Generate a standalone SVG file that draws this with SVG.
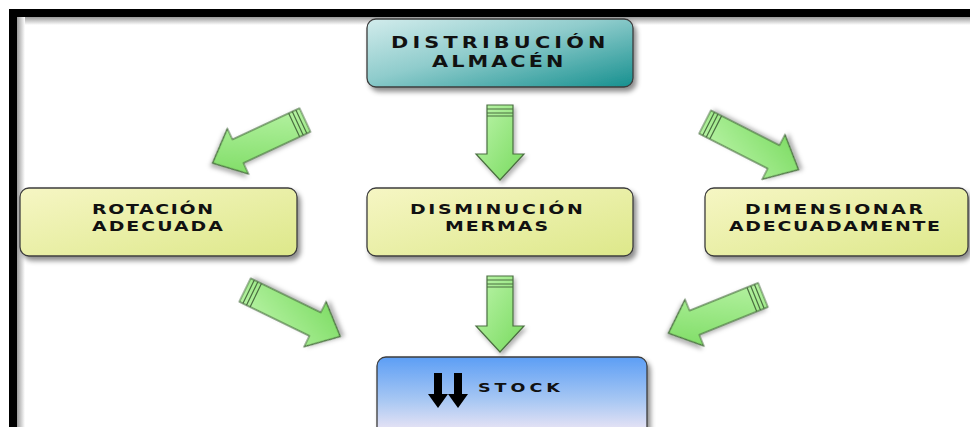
<svg xmlns="http://www.w3.org/2000/svg" width="970" height="427" viewBox="0 0 970 427">
  <defs>
    <linearGradient id="gTeal" x1="0" y1="0" x2="1" y2="1">
      <stop offset="0" stop-color="#d2ecec"/>
      <stop offset="0.45" stop-color="#8fcccc"/>
      <stop offset="1" stop-color="#16908f"/>
    </linearGradient>
    <linearGradient id="gYellow" x1="0" y1="0" x2="1" y2="1">
      <stop offset="0" stop-color="#f6f6c4"/>
      <stop offset="1" stop-color="#dde88a"/>
    </linearGradient>
    <linearGradient id="gBlue" x1="0" y1="0" x2="0" y2="1">
      <stop offset="0" stop-color="#5c9ef5"/>
      <stop offset="0.55" stop-color="#a9c8f3"/>
      <stop offset="1" stop-color="#f7eaf5"/>
    </linearGradient>
    <linearGradient id="gArrow" x1="0" y1="0" x2="1" y2="1">
      <stop offset="0" stop-color="#bdf5ab"/>
      <stop offset="1" stop-color="#78da5e"/>
    </linearGradient>
    <linearGradient id="gShadowTop" x1="0" y1="0" x2="0" y2="1">
      <stop offset="0" stop-color="#9a9a9a"/>
      <stop offset="1" stop-color="#ffffff"/>
    </linearGradient>
    <linearGradient id="gShadowLeft" x1="0" y1="0" x2="1" y2="0">
      <stop offset="0" stop-color="#9a9a9a"/>
      <stop offset="1" stop-color="#ffffff"/>
    </linearGradient>
    <filter id="shadow" x="-20%" y="-20%" width="140%" height="150%">
      <feDropShadow dx="3" dy="4" stdDeviation="2.5" flood-color="#000" flood-opacity="0.45"/>
    </filter>
    <filter id="ashadow" x="-30%" y="-30%" width="160%" height="160%">
      <feDropShadow dx="2" dy="3" stdDeviation="2" flood-color="#000" flood-opacity="0.3"/>
    </filter>
  </defs>
  <style>
    .box { stroke: #3c3c3c; stroke-width: 1.3; filter: url(#shadow); }
    .lbl { font-family: "DejaVu Sans", "Liberation Sans", sans-serif; font-weight: bold; font-size: 14px; fill: #111; }
    .big { font-size: 16px; }
    .sm { font-size: 13px; }
    .arr { fill: url(#gArrow); stroke: #4a6e40; stroke-width: 1.2; stroke-linejoin: miter; filter: url(#ashadow); }
    .stripe { stroke: #4a6e40; stroke-width: 1.2; }
  </style>

  <!-- frame -->
  <rect x="0" y="0" width="970" height="427" fill="#ffffff"/>
  <rect x="17" y="17" width="953" height="8" fill="url(#gShadowTop)"/>
  <rect x="17" y="17" width="8" height="410" fill="url(#gShadowLeft)"/>
  <rect x="9" y="9" width="961" height="8" fill="#000"/>
  <rect x="9" y="9" width="8" height="418" fill="#000"/>

  <!-- connectors -->
  <g id="connectors">
    <g transform="translate(500,105)">
      <path class="arr" d="M-13,0 L13,0 L13,49 L24,49 L0,75 L-24,49 L-13,49 Z"/>
      <path class="stripe" d="M-13,4 H13 M-13,8 H13 M-13,11 H13"/>
    </g>
    <g transform="translate(305,120) rotate(65)">
      <path class="arr" d="M-13,0 L13,0 L13,74 L25,74 L0,102 L-25,74 L-13,74 Z"/>
      <path class="stripe" d="M-13,4 H13 M-13,8 H13 M-13,12 H13"/>
    </g>
    <g transform="translate(705,122) rotate(-63)">
      <path class="arr" d="M-13,0 L13,0 L13,77 L25,77 L0,105 L-25,77 L-13,77 Z"/>
      <path class="stripe" d="M-13,4 H13 M-13,8 H13 M-13,12 H13"/>
    </g>
    <g transform="translate(500,276)">
      <path class="arr" d="M-13,0 L13,0 L13,50 L24,50 L0,76 L-24,50 L-13,50 Z"/>
      <path class="stripe" d="M-13,4 H13 M-13,8 H13 M-13,11 H13"/>
    </g>
    <g transform="translate(245,290) rotate(-64)">
      <path class="arr" d="M-13,0 L13,0 L13,78 L25,78 L0,106 L-25,78 L-13,78 Z"/>
      <path class="stripe" d="M-13,4 H13 M-13,8 H13 M-13,12 H13"/>
    </g>
    <g transform="translate(763,295) rotate(68)">
      <path class="arr" d="M-13,0 L13,0 L13,74 L25,74 L0,102 L-25,74 L-13,74 Z"/>
      <path class="stripe" d="M-13,4 H13 M-13,8 H13 M-13,12 H13"/>
    </g>
  </g>

  <!-- nodes -->
  <g id="distribucion">
    <rect class="box" x="367" y="19" width="266" height="68" rx="9" fill="url(#gTeal)"/>
    <text class="lbl big" transform="translate(391,48) scale(1.3,1)" textLength="165" lengthAdjust="spacing">DISTRIBUCIÓN</text>
    <text class="lbl big" transform="translate(432,67) scale(1.3,1)" textLength="101" lengthAdjust="spacing">ALMACÉN</text>
  </g>

  <g id="rotacion">
    <rect class="box" x="20" y="188" width="277" height="68" rx="9" fill="url(#gYellow)"/>
    <text class="lbl" transform="translate(92,214) scale(1.35,1)" textLength="89.6" lengthAdjust="spacing">ROTACIÓN</text>
    <text class="lbl" transform="translate(92,231) scale(1.35,1)" textLength="97" lengthAdjust="spacing">ADECUADA</text>
  </g>

  <g id="disminucion">
    <rect class="box" x="367" y="188" width="266" height="68" rx="9" fill="url(#gYellow)"/>
    <text class="lbl" transform="translate(410,214) scale(1.35,1)" textLength="128" lengthAdjust="spacing">DISMINUCIÓN</text>
    <text class="lbl" transform="translate(445,231) scale(1.35,1)" textLength="76.3" lengthAdjust="spacing">MERMAS</text>
  </g>

  <g id="dimensionar">
    <rect class="box" x="705" y="188" width="263" height="68" rx="9" fill="url(#gYellow)"/>
    <text class="lbl" transform="translate(745,214) scale(1.35,1)" textLength="131.9" lengthAdjust="spacing">DIMENSIONAR</text>
    <text class="lbl" transform="translate(729,231) scale(1.35,1)" textLength="156.3" lengthAdjust="spacing">ADECUADAMENTE</text>
  </g>

  <g id="stock">
    <rect class="box" x="377" y="357" width="270" height="80" rx="9" fill="url(#gBlue)"/>
    <g fill="#000">
      <path d="M434,373 H442 V394 H448 L438,408 L428,394 H434 Z"/>
      <path d="M454,373 H462 V394 H468 L458,408 L448,394 H454 Z"/>
    </g>
    <text class="lbl sm" transform="translate(478,392) scale(1.35,1)" textLength="60.7" lengthAdjust="spacing">STOCK</text>
  </g>
</svg>
